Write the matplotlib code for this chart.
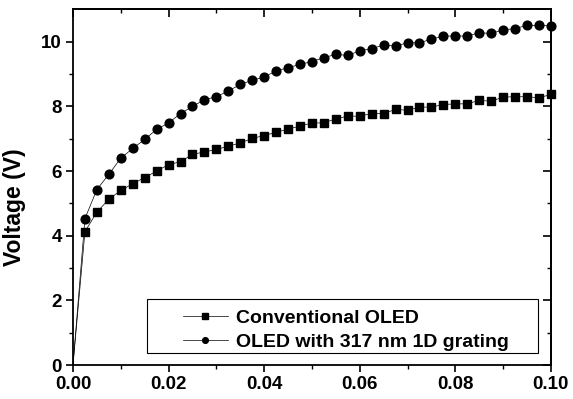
import numpy as np
import matplotlib
matplotlib.use('Agg')
import matplotlib.pyplot as plt
from matplotlib.patches import Rectangle

plt.rcParams['font.family'] = ['Liberation Sans', 'DejaVu Sans']
plt.rcParams['font.weight'] = 'bold'

# current density steps (x axis)
x = [0.0, 0.0025, 0.005, 0.0075, 0.01, 0.0125, 0.015, 0.0175, 0.02, 0.0225,
     0.025, 0.0275, 0.03, 0.0325, 0.035, 0.0375, 0.04, 0.0425, 0.045, 0.0475,
     0.05, 0.0525, 0.055, 0.0575, 0.06, 0.0625, 0.065, 0.0675, 0.07, 0.0725,
     0.075, 0.0775, 0.08, 0.0825, 0.085, 0.0875, 0.09, 0.0925, 0.095, 0.0975,
     0.1]

conv = [0.0, 4.13, 4.73, 5.13, 5.40, 5.61, 5.80, 6.00, 6.20, 6.29,
        6.52, 6.59, 6.67, 6.77, 6.87, 7.01, 7.10, 7.20, 7.30, 7.39,
        7.49, 7.49, 7.62, 7.70, 7.70, 7.78, 7.78, 7.91, 7.88, 7.98,
        7.98, 8.06, 8.08, 8.08, 8.19, 8.16, 8.29, 8.30, 8.30, 8.27,
        8.37]

grating = [0.0, 4.53, 5.43, 5.90, 6.40, 6.70, 6.98, 7.29, 7.49, 7.78,
           8.00, 8.21, 8.30, 8.48, 8.68, 8.81, 8.91, 9.10, 9.20, 9.30,
           9.39, 9.51, 9.61, 9.58, 9.72, 9.79, 9.90, 9.87, 9.97, 9.97,
           10.08, 10.18, 10.18, 10.18, 10.28, 10.26, 10.37, 10.41, 10.51, 10.51,
           10.49]

fig = plt.figure(figsize=(5.73, 3.99), dpi=100)
ax = fig.add_axes([0.1274, 0.0852, 0.834, 0.891])

ax.plot(x, conv, '-', color='black', lw=0.5, marker='s', ms=5.6,
        markevery=slice(1, None), label='Conventional OLED', clip_on=False)
ax.plot(x, grating, '-', color='black', lw=0.5, marker='o', ms=6.3,
        markevery=slice(1, None), label='OLED with 317 nm 1D grating',
        clip_on=False)

ax.set_xlim(0, 0.10)
ax.set_ylim(0, 11)
major_x = [0.0, 0.02, 0.04, 0.06, 0.08, 0.10]
minor_x = [0.01, 0.03, 0.05, 0.07, 0.09]
major_y = [0, 2, 4, 6, 8, 10]
minor_y = [1, 3, 5, 7, 9]
ax.set_xticks(major_x)
ax.set_xticks(minor_x, minor=True)
ax.set_yticks(major_y)
ax.set_yticks(minor_y, minor=True)
ax.xaxis.set_major_formatter(plt.FormatStrFormatter('%.2f'))

ax.tick_params(axis='both', which='major', direction='out', length=5, width=1.2,
               labelsize=13.5, pad=3)
ax.tick_params(axis='both', which='minor', direction='out', length=3, width=1.0)

# mirrored ticks on top and right, pointing inwards
top = ax.secondary_xaxis('top')
top.set_xticks(major_x)
top.set_xticks(minor_x, minor=True)
top.tick_params(which='major', direction='in', length=6, width=1.2, labeltop=False)
top.tick_params(which='minor', direction='in', length=3, width=1.0)
right = ax.secondary_yaxis('right')
right.set_yticks(major_y)
right.set_yticks(minor_y, minor=True)
right.tick_params(which='major', direction='in', length=6, width=1.2, labelright=False)
right.tick_params(which='minor', direction='in', length=3, width=1.0)

for s in ax.spines.values():
    s.set_linewidth(1.3)
top.spines['top'].set_linewidth(1.3)
right.spines['right'].set_linewidth(1.3)

ax.set_ylabel('Voltage (V)', fontsize=16.5, fontweight='bold')
ax.yaxis.set_label_coords(-0.098, 0.444)

# legend box drawn separately so the entries can sit away from its left edge
ax.add_patch(Rectangle((0.155, 0.034), 0.818, 0.152, transform=ax.transAxes,
                       fill=True, facecolor='white', edgecolor='black',
                       lw=0.8, zorder=5))
leg = ax.legend(loc='upper left', bbox_to_anchor=(0.230, 0.157),
                fontsize=14, frameon=False, borderpad=0, borderaxespad=0,
                handlelength=2.3, handletextpad=0.45, labelspacing=0.35,
                markerscale=0.65)
leg.set_zorder(6)

fig.savefig('out.png', dpi=100)
